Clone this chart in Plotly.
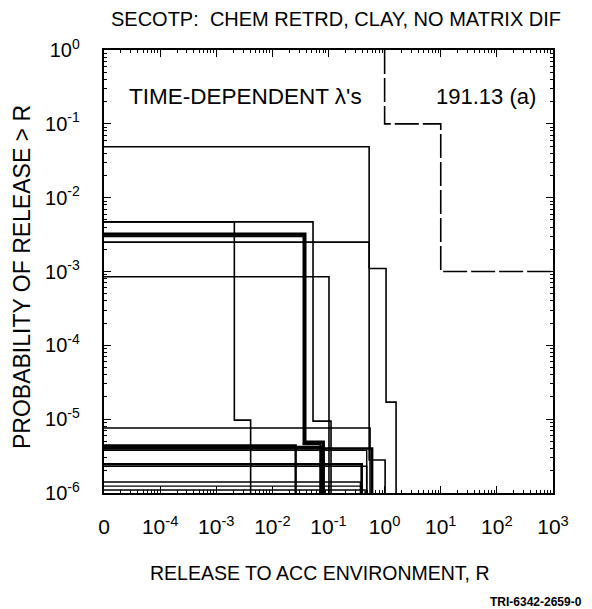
import plotly.graph_objects as go

# ---- data ----
x_zero = 1e-5          # the "0" position at the left edge
y_floor = 1e-7         # below the visible range (curves drop off the chart)

# complementary cumulative distributions: level held until each drop point
curve_levels = [
    [0.049, 0.0011, 1.7e-5],
    [0.0047, 9.7e-6],
    [0.0047, 9.4e-6],
    [0.0032, 4.9e-6],
    [0.0030, 4.6e-6],
    [0.0025, 2.8e-6],
    [0.00085],
    [7.6e-6],
    [4.4e-6],
    [4.2e-6],
    [4.0e-6],
    [3.8e-6],
    [2.45e-6],
    [2.3e-6],
    [1.41e-6],
    [1.24e-6],
    [1.1e-6],
]
curve_drops = [
    [0.53, 1.06, 1.6],
    [0.0021, 0.0041],
    [0.053, 0.111],
    [0.038, 0.081],
    [0.036, 0.072],
    [0.53, 1.02],
    [0.102],
    [0.55],
    [0.026],
    [0.073],
    [0.6],
    [0.48],
    [0.39],
    [0.48],
    [0.37],
    [0.4],
    [0.45],
]
curve_widths = [1.6, 1.6, 1.6, 3.2, 2.2, 1.6, 1.6, 1.6, 2.4, 2.4, 2.4, 1.4, 2.6, 1.6, 1.4, 1.4, 1.4]

epa_x = [1, 1, 10, 10, 1000]
epa_y = [1, 0.1, 0.1, 0.001, 0.001]

x_tickvals = [1e-5, 1e-4, 1e-3, 1e-2, 1e-1, 1e0, 1e1, 1e2, 1e3]
x_ticktext = ["0", "10<sup>-4</sup>", "10<sup>-3</sup>", "10<sup>-2</sup>", "10<sup>-1</sup>",
              "10<sup>0</sup>", "10<sup>1</sup>", "10<sup>2</sup>", "10<sup>3</sup>"]
y_tickvals = [1e-6, 1e-5, 1e-4, 1e-3, 1e-2, 1e-1, 1e0]
y_ticktext = ["10<sup>-6</sup>", "10<sup>-5</sup>", "10<sup>-4</sup>", "10<sup>-3</sup>",
              "10<sup>-2</sup>", "10<sup>-1</sup>", "10<sup>0</sup>"]

FONT = "Liberation Sans, Arial, Helvetica, sans-serif"

# the page body adds an 8px offset; work in screen pixels and subtract it
OFF = 8
W, H = 592, 609
SX0, SX1, SY0, SY1 = 104, 553, 50, 493          # plot frame in screen pixels
L, T = SX0 - OFF, SY0 - OFF
R, B = W - (SX1 - OFF), H - (SY1 - OFF)
PW, PH = W - L - R, H - T - B


def px_x(p):
    return (p - SX0) / PW


def px_y(p):
    return (SY1 - p) / PH


fig = go.Figure()


def step_xy(levels, drops):
    xs, ys = [x_zero], [levels[0]]
    for i, d in enumerate(drops):
        xs.append(d)
        ys.append(levels[i])
        nxt = levels[i + 1] if i + 1 < len(levels) else y_floor
        xs.append(d)
        ys.append(nxt)
    return xs, ys


for lv, dr, w in zip(curve_levels, curve_drops, curve_widths):
    xs, ys = step_xy(lv, dr)
    fig.add_trace(go.Scatter(x=xs, y=ys, mode="lines",
                             line=dict(color="black", width=w),
                             hoverinfo="skip", showlegend=False))

fig.add_trace(go.Scatter(x=epa_x, y=epa_y, mode="lines",
                         line=dict(color="black", width=1.6, dash="24px,4px"),
                         hoverinfo="skip", showlegend=False))


def minor_vals(lo, hi):
    vals = []
    for e in range(lo, hi):
        for k in range(2, 10):
            vals.append(k * 10.0 ** e)
    return vals


fig.update_layout(
    width=W, height=H,
    margin=dict(l=L, r=R, t=T, b=B, autoexpand=False),
    paper_bgcolor="white", plot_bgcolor="white",
    font=dict(family=FONT, color="black"),
    title=dict(text="SECOTP:\u00a0\u00a0CHEM RETRD, CLAY, NO MATRIX DIF",
               x=(336 - OFF) / W, xanchor="center", y=1 - (19 - OFF) / H, yanchor="middle",
               font=dict(size=20, family=FONT, color="black")),
    xaxis=dict(type="log", range=[-5, 3], tickmode="array", automargin=False,
               tickvals=x_tickvals, ticktext=x_ticktext,
               ticks="inside", ticklen=7, tickwidth=1.2, tickcolor="black",
               showline=True, linewidth=2.4, linecolor="black", mirror="allticks",
               showgrid=False, zeroline=False,
               tickfont=dict(size=21, family=FONT),
               ticklabelstandoff=14,
               minor=dict(tickmode="array", tickvals=minor_vals(-5, 3),
                          ticks="inside", ticklen=3, tickwidth=1, tickcolor="black",
                          showgrid=False)),
    yaxis=dict(type="log", range=[-6, 0], tickmode="array", automargin=False,
               tickvals=y_tickvals, ticktext=y_ticktext,
               ticks="inside", ticklen=7, tickwidth=1.2, tickcolor="black",
               showline=True, linewidth=2.4, linecolor="black", mirror="allticks",
               showgrid=False, zeroline=False,
               tickfont=dict(size=20, family=FONT),
               ticklabelstandoff=18,
               minor=dict(tickmode="array", tickvals=minor_vals(-6, 0),
                          ticks="inside", ticklen=3, tickwidth=1, tickcolor="black",
                          showgrid=False)),
)

fig.add_annotation(text="RELEASE TO ACC ENVIRONMENT, R", xref="paper", yref="paper",
                   x=px_x(320), y=px_y(573), xanchor="center", yanchor="middle",
                   showarrow=False, font=dict(size=19.5, family=FONT, color="black"))
fig.add_annotation(text="PROBABILITY OF RELEASE > R", xref="paper", yref="paper",
                   x=px_x(22), y=px_y(277), xanchor="center", yanchor="middle",
                   textangle=-90, borderpad=0,
                   showarrow=False, font=dict(size=23, family=FONT, color="black"))
fig.add_annotation(text="TIME-DEPENDENT \u03bb's", xref="paper", yref="paper",
                   x=px_x(127), y=px_y(97), xanchor="left", yanchor="middle",
                   showarrow=False, font=dict(size=22.5, family=FONT, color="black"))
fig.add_annotation(text="191.13 (a)", xref="paper", yref="paper",
                   x=px_x(538), y=px_y(97), xanchor="right", yanchor="middle",
                   showarrow=False, font=dict(size=22, family=FONT, color="black"))
fig.add_annotation(text="<b>TRI-6342-2659-0</b>", xref="paper", yref="paper",
                   x=px_x(584), y=px_y(602), xanchor="right", yanchor="middle",
                   showarrow=False, font=dict(size=12, family=FONT, color="black"))

fig.write_html("out.html")
